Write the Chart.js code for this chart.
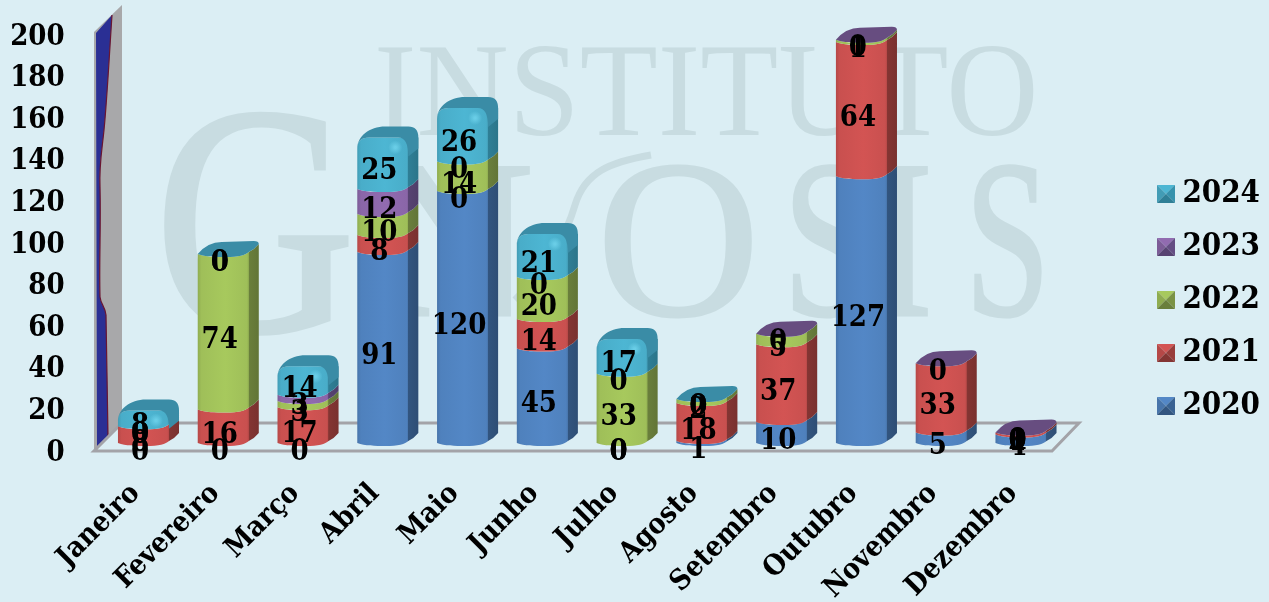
<!DOCTYPE html>
<html>
<head>
<meta charset="utf-8">
<title>Chart</title>
<script src="https://cdn.jsdelivr.net/npm/chart.js@4/dist/chart.umd.min.js"></script>
<style>
  html, body { margin: 0; padding: 0; background: #dbeef4; overflow: hidden; }
  #wrap { width: 1269px; height: 602px; }
</style>
</head>
<body>
<div id="wrap"><canvas id="myChart"></canvas></div>
<script>
const months = ['Janeiro', 'Fevereiro', 'Março', 'Abril', 'Maio', 'Junho', 'Julho', 'Agosto', 'Setembro', 'Outubro', 'Novembro', 'Dezembro'];
const years = ['2020', '2021', '2022', '2023', '2024'];

const values2020 = [0, 0, 0, 91, 120, 45, 0, 1, 10, 127, 5, 4];
const values2021 = [8, 16, 17, 8, 0, 14, 0, 18, 37, 64, 33, 1];
const values2022 = [0, 74, 3, 10, 14, 20, 33, 2, 5, 1, null, 0];
const values2023 = [0, 0, 3, 12, 0, 0, 0, 0, 0, 0, 0, 0];
const values2024 = [8, 0, 14, 25, 26, 21, 17, 0, null, null, null, null];
const seriesValues = [values2020, values2021, values2022, values2023, values2024];

const frontColors = ['#4f81bd', '#c9504f', '#9fbf59', '#8a66a8', '#49adc9'];
const sideColors = ['#32557f', '#843533', '#6a7f3c', '#574372', '#2f7f96'];
const capColors = ['#3d6798', '#9a3f3d', '#7c9445', '#674d80', '#3a8ca6'];

const font = 'bold 29px "DejaVu Serif Condensed", "DejaVu Serif", serif';
const fontFamily = '"DejaVu Serif Condensed", "DejaVu Serif", serif';

// depth of the fake 3d look
const depthX = 10;

function shade(hex, k) {
  const n = parseInt(hex.slice(1), 16);
  const c = [n >> 16, (n >> 8) & 255, n & 255].map(v => Math.min(255, Math.round(v * k)));
  return `rgb(${c[0]},${c[1]},${c[2]})`;
}

// curved edge of a bar segment, left to right or back
function edge(ctx, xl, w, y, back) {
  const xr = xl + w;
  if (!back) {
    ctx.lineTo(xl, y - 3);
    ctx.bezierCurveTo(xl + w * 0.15, y, xl + w * 0.35, y, xl + w * 0.55, y);
    ctx.bezierCurveTo(xl + w * 0.8, y, xl + w * 0.94, y - 2, xr, y - 5);
    ctx.quadraticCurveTo(xr + 6, y - 8, xr + depthX, y - 13);
  } else {
    ctx.lineTo(xr + depthX, y - 13);
    ctx.quadraticCurveTo(xr + 6, y - 8, xr, y - 5);
    ctx.bezierCurveTo(xl + w * 0.94, y - 2, xl + w * 0.8, y, xl + w * 0.55, y);
    ctx.bezierCurveTo(xl + w * 0.35, y, xl + w * 0.15, y, xl, y - 3);
  }
}

function barGradient(ctx, xl, w, color, side) {
  const g = ctx.createLinearGradient(xl, 0, xl + w + depthX, 0);
  const split = w / (w + depthX);
  g.addColorStop(0, shade(color, 0.9));
  g.addColorStop(0.06, color);
  g.addColorStop(0.45, shade(color, 1.05));
  g.addColorStop(split - 0.03, color);
  g.addColorStop(split - 0.005, shade(color, 0.92));
  g.addColorStop(split, side);
  g.addColorStop(1, shade(side, 0.92));
  return g;
}

function capDrop(el) {
  return Math.min(9, (el.base - el.y) / 2);
}

function drawSegment(ctx, el, ds, roundTop) {
  const xl = el.x - el.width / 2;
  const xr = xl + el.width;
  ctx.beginPath();
  if (roundTop) {
    const drop = capDrop(el);
    ctx.moveTo(xl, el.y + drop);
    ctx.quadraticCurveTo(xl, el.y - 2, xl + 12, el.y - 2);
    ctx.lineTo(xr + depthX, el.y - 2);
  } else {
    edge(ctx, xl, el.width, el.y, false);
  }
  edge(ctx, xl, el.width, el.base, true);
  ctx.closePath();
  ctx.fillStyle = barGradient(ctx, xl, el.width, frontColors[ds], sideColors[ds]);
  ctx.fill();
}

function drawFlatCap(ctx, el, ds) {
  const xl = el.x - el.width / 2;
  const xr = xl + el.width;
  const y = el.y;
  ctx.beginPath();
  ctx.moveTo(xl, y - 3);
  ctx.quadraticCurveTo(xl + 10, y - 15, xl + 24, y - 15);
  ctx.lineTo(xr + depthX - 5, y - 16);
  ctx.quadraticCurveTo(xr + depthX, y - 16, xr + depthX, y - 13);
  edge(ctx, xl, el.width, y, true);
  ctx.closePath();
  ctx.fillStyle = capColors[ds];
  ctx.fill();
}

function drawRoundCap(ctx, el, ds) {
  const xl = el.x - el.width / 2;
  const xr = xl + el.width;
  const y = el.y;
  const drop = capDrop(el);
  // dark top and back shoulder
  ctx.beginPath();
  ctx.moveTo(xl, y + drop);
  ctx.bezierCurveTo(xl, y - 3, xl + 12, y - 13, xl + 28, y - 13);
  ctx.lineTo(xr + depthX - 10, y - 13);
  ctx.quadraticCurveTo(xr + depthX, y - 13, xr + depthX, y - 2);
  ctx.lineTo(xr + depthX, y + drop);
  ctx.lineTo(xr, y + drop + 8);
  ctx.quadraticCurveTo(xr, y - 2, xr - 10, y - 2);
  ctx.lineTo(xl + 12, y - 2);
  ctx.quadraticCurveTo(xl, y - 2, xl, y + drop);
  ctx.closePath();
  ctx.fillStyle = capColors[ds];
  ctx.fill();
  // lit corner
  const hx = xr - 13, hy = y + 8;
  const g = ctx.createRadialGradient(hx, hy, 1, hx, hy, 7);
  g.addColorStop(0, 'rgba(110,210,235,0.85)');
  g.addColorStop(1, 'rgba(110,210,235,0)');
  ctx.fillStyle = g;
  ctx.fillRect(hx - 7, hy - 7, 14, 14);
}

// watermark behind the chart
const markFill = '#c8dce1';
const markLetters = [
  { ch: 'G', x: 154, base: 331, size: 329, sx: 0.85 },
  { ch: 'N', x: 371, base: 315, size: 225, sx: 1 },
  { ch: 'O', x: 597, base: 315, size: 225, sx: 1 },
  { ch: 'S', x: 783, base: 315, size: 225, sx: 0.72 },
  { ch: 'I', x: 873, base: 315, size: 225, sx: 0.8 },
  { ch: 'S', x: 965, base: 315, size: 225, sx: 0.68 }
];

const watermark = {
  id: 'watermark',
  afterLayout(chart) {
    // rotated month names run past the x scale box, keep them from being clipped
    chart.scales.x.bottom = chart.height;
  },
  beforeDraw(chart) {
    const ctx = chart.ctx;
    ctx.save();
    ctx.fillStyle = '#dbeef4';
    ctx.fillRect(0, 0, chart.width, chart.height);
    ctx.fillStyle = markFill;
    ctx.strokeStyle = markFill;
    ctx.textAlign = 'left';
    ctx.textBaseline = 'alphabetic';
    ctx.save();
    ctx.translate(374, 135);
    ctx.scale(0.96, 1);
    ctx.font = '133px "Liberation Serif"';
    ctx.fillText('INSTITUTO', 0, 0);
    ctx.restore();
    markLetters.forEach(m => {
      ctx.save();
      ctx.translate(m.x, m.base);
      ctx.scale(m.sx, 1);
      ctx.font = m.size + 'px "Liberation Serif"';
      ctx.lineWidth = 3;
      ctx.fillText(m.ch, 0, 0);
      ctx.strokeText(m.ch, 0, 0);
      ctx.restore();
    });
    // swirl through the N
    ctx.lineWidth = 7;
    ctx.beginPath();
    ctx.moveTo(651, 155);
    ctx.bezierCurveTo(610, 162, 585, 172, 575, 205);
    ctx.bezierCurveTo(565, 240, 545, 270, 515, 300);
    ctx.stroke();
    ctx.restore();
  }
};

const bars3d = {
  id: 'bars3d',
  beforeDatasetsDraw(chart) {
    const ctx = chart.ctx;
    ctx.save();

    // back wall and its blue shape
    ctx.fillStyle = '#a8a8aa';
    ctx.beginPath();
    ctx.moveTo(94, 32);
    ctx.lineTo(122, 5);
    ctx.lineTo(122, 423);
    ctx.lineTo(94, 451);
    ctx.closePath();
    ctx.fill();

    ctx.beginPath();
    ctx.moveTo(96, 33);
    ctx.lineTo(112, 15);
    ctx.bezierCurveTo(109, 60, 107, 100, 104, 130);
    ctx.bezierCurveTo(102, 150, 99, 165, 100, 187);
    ctx.bezierCurveTo(101, 230, 99, 260, 100, 297);
    ctx.bezierCurveTo(101, 305, 105, 306, 106, 315);
    ctx.lineTo(108, 427);
    ctx.lineTo(108, 437);
    ctx.lineTo(97, 448);
    ctx.closePath();
    ctx.fillStyle = '#2a2f94';
    ctx.fill();
    ctx.strokeStyle = '#6a1530';
    ctx.lineWidth = 1.2;
    ctx.beginPath();
    ctx.moveTo(112, 15);
    ctx.bezierCurveTo(109, 60, 107, 100, 104, 130);
    ctx.bezierCurveTo(102, 150, 99, 165, 100, 187);
    ctx.bezierCurveTo(101, 230, 99, 260, 100, 297);
    ctx.bezierCurveTo(101, 305, 105, 306, 106, 315);
    ctx.lineTo(108, 437);
    ctx.stroke();

    // floor outline
    ctx.strokeStyle = '#a3a3a8';
    ctx.lineWidth = 3;
    ctx.beginPath();
    ctx.moveTo(122, 423);
    ctx.lineTo(1079, 423);
    ctx.lineTo(1052, 451);
    ctx.lineTo(94, 451);
    ctx.lineTo(122, 423);
    ctx.stroke();

    // segments bottom up, then the cap of the last series in each column
    months.forEach((m, i) => {
      let topDs = 0;
      seriesValues.forEach((vals, ds) => {
        if (vals[i] !== null) topDs = ds;
      });
      const topRound = seriesValues[topDs][i] > 0;
      seriesValues.forEach((vals, ds) => {
        if (vals[i] > 0) drawSegment(ctx, chart.getDatasetMeta(ds).data[i], ds, topRound && ds === topDs);
      });
      const topEl = chart.getDatasetMeta(topDs).data[i];
      if (topRound) drawRoundCap(ctx, topEl, topDs);
      else drawFlatCap(ctx, topEl, topDs);
    });

    // value labels
    ctx.fillStyle = '#000';
    ctx.font = font;
    ctx.textAlign = 'center';
    ctx.textBaseline = 'middle';
    seriesValues.forEach((vals, ds) => {
      const data = chart.getDatasetMeta(ds).data;
      vals.forEach((v, i) => {
        if (v === null) return;
        const el = data[i];
        ctx.fillText(String(v), el.x - 3.5, (el.y + el.base) / 2 + 6);
      });
    });
    ctx.restore();
    return false;
  }
};

function swatch(ds) {
  const c = document.createElement('canvas');
  c.width = 18;
  c.height = 18;
  const g = c.getContext('2d');
  const tri = (pts, col) => {
    g.fillStyle = col;
    g.beginPath();
    g.moveTo(pts[0], pts[1]);
    g.lineTo(pts[2], pts[3]);
    g.lineTo(9, 9);
    g.closePath();
    g.fill();
  };
  tri([0, 0, 18, 0], shade(frontColors[ds], 1.05));
  tri([0, 0, 0, 18], shade(frontColors[ds], 0.9));
  tri([18, 0, 18, 18], shade(sideColors[ds], 1.15));
  tri([0, 18, 18, 18], sideColors[ds]);
  return c;
}

const datasets = years.map((year, ds) => ({
  label: year,
  data: seriesValues[ds],
  backgroundColor: frontColors[ds],
  yAxisID: 'yBars',
  categoryPercentage: 0.64,
  barPercentage: 1
}));

new Chart(document.getElementById('myChart'), {
  type: 'bar',
  data: { labels: months, datasets: datasets },
  plugins: [watermark, bars3d],
  options: {
    responsive: true,
    maintainAspectRatio: false,
    animation: false,
    layout: { padding: { top: 34, bottom: 36.4, right: -1 } },
    plugins: {
      tooltip: { enabled: false },
      legend: {
        position: 'right',
        reverse: true,
        labels: {
          color: '#000',
          font: { family: fontFamily, size: 31, weight: 'bold' },
          usePointStyle: true,
          pointStyleWidth: 2,
          padding: 22,
          generateLabels(chart) {
            return years.map((year, ds) => ({
              text: year,
              pointStyle: swatch(ds),
              datasetIndex: ds,
              fontColor: '#000',
              lineWidth: 0
            }));
          }
        }
      }
    },
    scales: {
      x: {
        stacked: true,
        grid: { display: false },
        border: { display: false },
        afterFit(scale) { scale.height = 115.6; },
        ticks: {
          color: '#000',
          autoSkip: false,
          minRotation: 45,
          maxRotation: 45,
          padding: 19,
          labelOffset: -8,
          font: { family: fontFamily, size: 28.5, weight: 'bold' }
        }
      },
      y: {
        position: 'left',
        min: 0,
        max: 200,
        grid: { display: false, tickLength: 28 },
        border: { display: false },
        afterFit(scale) { scale.width = 103.6; },
        ticks: {
          stepSize: 20,
          color: '#000',
          padding: 11,
          labelOffset: 3,
          font: { family: fontFamily, size: 29, weight: 'bold' }
        }
      },
      // bars stand a little behind the axis plane, so they get their own scale
      yBars: {
        position: 'right',
        stacked: true,
        min: -1.905,
        max: 196.19,
        grid: { display: false },
        border: { display: false },
        ticks: { display: false },
        afterFit(scale) { scale.width = 82; }
      }
    }
  }
});
</script>
</body>
</html>
